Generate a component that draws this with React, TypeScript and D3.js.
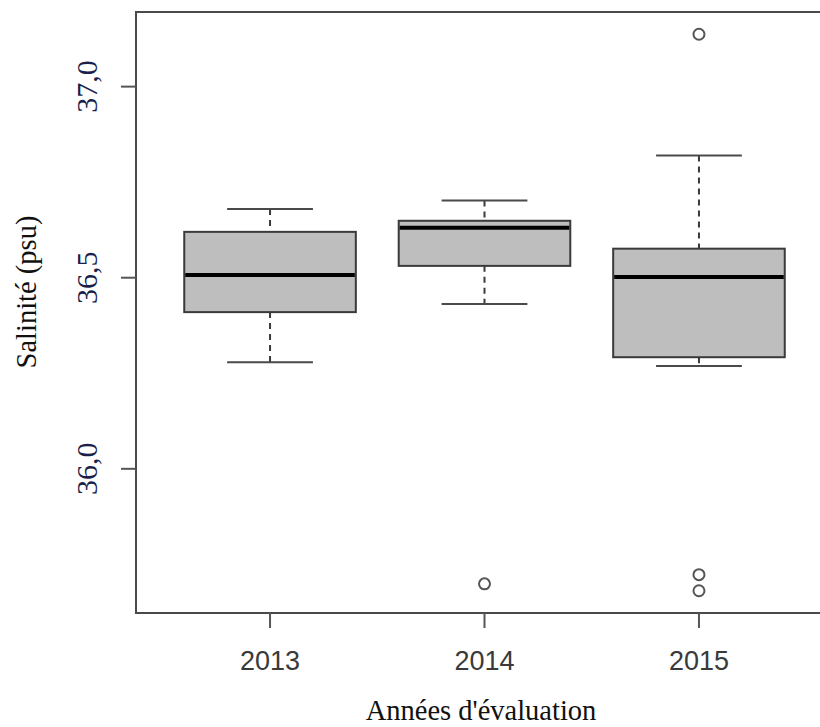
import React from "react";
import * as d3 from "d3";

const years = ["2013", "2014", "2015"];
const lowerWhisker = [36.279, 36.431, 36.269];
const q1 = [36.41, 36.531, 36.292];
const medians = [36.507, 36.631, 36.502];
const q3 = [36.62, 36.649, 36.576];
const upperWhisker = [36.68, 36.702, 36.82];
const outliers = [[], [35.699], [37.137, 35.723, 35.681]];
const yTicks = [36.0, 36.5, 37.0];
const yTickLabels = ["36,0", "36,5", "37,0"];
const xTitle = "Années d'évaluation";
const yTitle = "Salinité (psu)";

const W = 820;
const H = 727;
const plotLeft = 136;
const plotRight = 833;
const plotTop = 12;
const plotBottom = 613;

export default function App() {
  const allVals = [...lowerWhisker, ...upperWhisker, ...outliers.flat()];
  const lo = d3.min(allVals) as number;
  const hi = d3.max(allVals) as number;
  const ext = (hi - lo) * 0.04;
  const y = d3.scaleLinear().domain([lo - ext, hi + ext]).range([plotBottom, plotTop]);
  const x = d3.scaleLinear().domain([0.375, years.length + 0.625]).range([plotLeft, plotRight]);
  const unit = x(2) - x(1);
  const boxW = unit * 0.8;
  const capW = boxW * 0.5;

  return (
    <svg
      width={W}
      height={H}
      style={{ position: "absolute", left: 0, top: 0, background: "#fff" }}
    >
      <rect x={0} y={0} width={W} height={H} fill="#fff" />
      {years.map((yr, i) => {
        const cx = x(i + 1);
        return (
          <g key={yr}>
            <line x1={cx} x2={cx} y1={y(upperWhisker[i])} y2={y(q3[i])} stroke="#3a3a3a" strokeWidth={2} strokeDasharray="6,5" />
            <line x1={cx} x2={cx} y1={y(q1[i])} y2={y(lowerWhisker[i])} stroke="#3a3a3a" strokeWidth={2} strokeDasharray="6,5" />
            <line x1={cx - capW / 2} x2={cx + capW / 2} y1={y(upperWhisker[i])} y2={y(upperWhisker[i])} stroke="#4a4a4a" strokeWidth={2} />
            <line x1={cx - capW / 2} x2={cx + capW / 2} y1={y(lowerWhisker[i])} y2={y(lowerWhisker[i])} stroke="#4a4a4a" strokeWidth={2} />
            <rect
              x={cx - boxW / 2}
              y={y(q3[i])}
              width={boxW}
              height={y(q1[i]) - y(q3[i])}
              fill="#bebebe"
              stroke="#3a3a3a"
              strokeWidth={2}
            />
            <line x1={cx - boxW / 2 + 1} x2={cx + boxW / 2 - 1} y1={y(medians[i])} y2={y(medians[i])} stroke="#000" strokeWidth={4} />
            {outliers[i].map((v, j) => (
              <circle key={j} cx={cx} cy={y(v)} r={5.5} fill="none" stroke="#555" strokeWidth={2} />
            ))}
          </g>
        );
      })}
      {/* frame */}
      <rect
        x={plotLeft}
        y={plotTop}
        width={plotRight - plotLeft}
        height={plotBottom - plotTop}
        fill="none"
        stroke="#4a4a4a"
        strokeWidth={2}
      />
      {/* y axis ticks */}
      {yTicks.map((t, i) => (
        <g key={t}>
          <line x1={plotLeft - 15} x2={plotLeft} y1={y(t)} y2={y(t)} stroke="#555" strokeWidth={2} />
          <text
            transform={`translate(97,${y(t)}) rotate(-90)`}
            textAnchor="middle"
            fontFamily="'Liberation Serif', 'Times New Roman', serif"
            fontSize={30}
            fill="#1b1f4b"
          >
            {yTickLabels[i]}
          </text>
        </g>
      ))}
      {/* x axis ticks */}
      {years.map((yr, i) => (
        <g key={yr}>
          <line x1={x(i + 1)} x2={x(i + 1)} y1={plotBottom} y2={plotBottom + 15} stroke="#555" strokeWidth={2} />
          <text
            x={x(i + 1)}
            y={670}
            textAnchor="middle"
            fontFamily="'Liberation Sans', Arial, sans-serif"
            fontSize={27}
            fill="#3a3a3a"
          >
            {yr}
          </text>
        </g>
      ))}
      <text
        x={481}
        y={720}
        textAnchor="middle"
        fontFamily="'Liberation Serif', 'Times New Roman', serif"
        fontSize={28.5}
        fill="#111"
      >
        {xTitle}
      </text>
      <text
        transform={`translate(36,292) rotate(-90)`}
        textAnchor="middle"
        fontFamily="'Liberation Serif', 'Times New Roman', serif"
        fontSize={28.5}
        fill="#111"
      >
        {yTitle}
      </text>
    </svg>
  );
}
